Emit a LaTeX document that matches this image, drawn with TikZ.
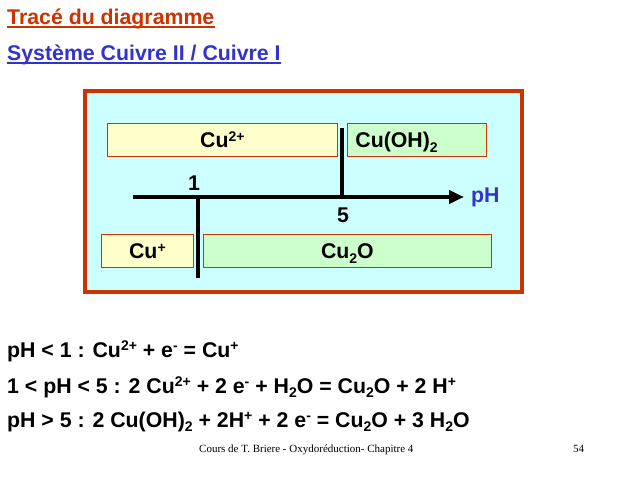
\documentclass[tikz,border=0pt]{standalone}
\usepackage{fontspec}
\setmainfont{Liberation Sans}
\newfontfamily\footfont{Liberation Serif}
\usepackage{xcolor}
\usetikzlibrary{arrows.meta, positioning}
\definecolor{frameRed}{HTML}{CC3300}
\definecolor{titleBlue}{HTML}{3333CC}
\definecolor{paneCyan}{HTML}{CCFFFF}
\definecolor{ionYellow}{HTML}{FFFFCC}
\definecolor{solidGreen}{HTML}{CCFFCC}
% exposants et indices
\newcommand\chex[1]{\smash{\raisebox{0.3em}{\fontsize{14}{14}\selectfont #1}}}
\newcommand\chind[1]{\smash{\raisebox{-0.22em}{\fontsize{14}{14}\selectfont #1}}}

\begin{document}
\begin{tikzpicture}[x=1pt, y=-1pt,
  big/.style={font=\fontsize{21.3}{25}\selectfont\bfseries, inner sep=0pt},
  textline/.style={big, anchor=base west},
  phase/.style={big, draw=frameRed, line width=0.8pt, minimum height=33pt,
    text height=15.5pt, text depth=0pt, anchor=north west},
  ion/.style={phase, fill=ionYellow},
  solid/.style={phase, fill=solidGreen},
  uline/.style={line width=2pt},
  bar/.style={line width=4pt},
  arrow/.style={-{Triangle[length=15pt, width=13pt]}, line width=4pt}
]
  \useasboundingbox (0,0) rectangle (640,480);

  % titres
  \node[textline, text=frameRed] (title) at (7,24) {Tracé du diagramme};
  \node[textline, text=titleBlue] (subtitle) at (7,60) {Système Cuivre II / Cuivre I};
  \draw[uline, frameRed] ([yshift=-2.5pt]title.base west) -- ([yshift=-2.5pt]title.base east);
  \draw[uline, titleBlue] ([yshift=-2.5pt]subtitle.base west) -- ([yshift=-2.5pt]subtitle.base east);

  % cadre
  \draw[frameRed, fill=paneCyan, line width=4pt] (85,91) rectangle (522,292);

  % domaines
  \node[ion, minimum width=230pt] (cuII) at (107,123) {Cu\chex{2+}};
  \node[solid, minimum width=139pt, text width=123pt, inner xsep=8pt, align=left] (cuOH) at (347,123) {Cu(OH)\chind{2}};
  \node[ion, minimum width=92pt] (cuI) at (101,234) {Cu\chex{+}};
  \node[solid, minimum width=288pt] (cuO) at (203,234) {Cu\chind{2}O};

  % axe pH
  \coordinate (axL) at (133,197);
  \coordinate (axR) at (464,197);
  \coordinate (one) at (198,197);
  \coordinate (oneEnd) at (198,278);
  \coordinate (five) at (342,197);
  \coordinate (fiveTop) at (342,128);
  \draw[bar] (one) -- (oneEnd);
  \draw[bar] (five) -- (fiveTop);
  \draw[arrow] (axL) -- (axR);
  \node[big, text=titleBlue, anchor=west, right=7pt of axR] (ph) {pH};
  \node[big] (labOne) at (194,183) {1};
  \node[big] (labFive) at (343,215) {5};

  % equations
  \node[textline] (eqA) at (7,357) {pH < 1 : Cu\chex{2+} + e\chex{-} = Cu\chex{+}};
  \node[textline] (eqB) at (7,393) {1 < pH < 5 : 2 Cu\chex{2+} + 2 e\chex{-} + H\chind{2}O = Cu\chind{2}O + 2 H\chex{+}};
  \node[textline] (eqC) at (7,427) {pH > 5 : 2 Cu(OH)\chind{2} + 2H\chex{+} + 2 e\chex{-} = Cu\chind{2}O + 3 H\chind{2}O};

  % pied de page
  \node[anchor=base west, inner sep=0pt, font=\footfont\fontsize{11}{13}\selectfont] (footer) at (199,452) {Cours de T. Briere - Oxydoréduction- Chapitre 4};
  \node[anchor=base west, inner sep=0pt, font=\footfont\fontsize{11}{13}\selectfont] (pagenum) at (573,452) {54};
\end{tikzpicture}
\end{document}
